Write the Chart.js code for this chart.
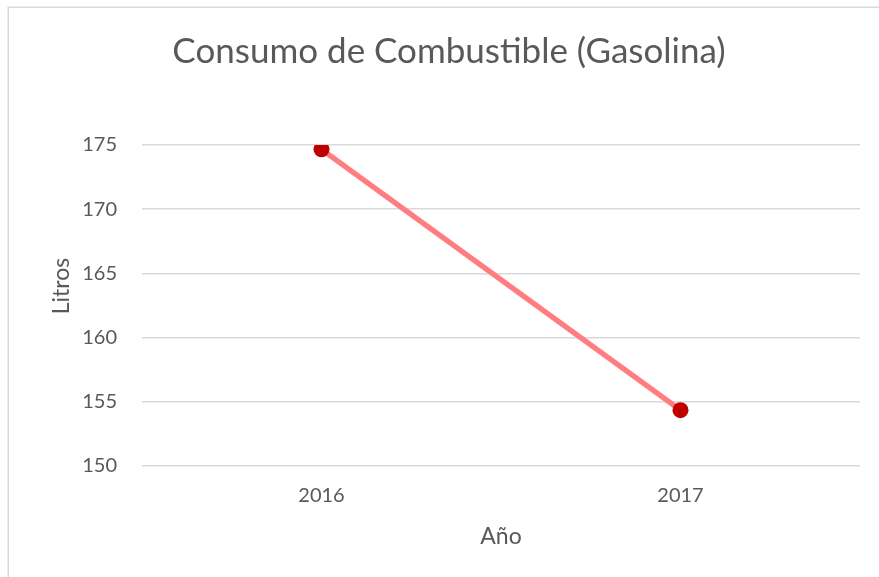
<!DOCTYPE html>
<html>
<head>
<meta charset="utf-8">
<script src="https://cdn.jsdelivr.net/npm/chart.js@4"></script>
<style>
  html, body { margin: 0; padding: 0; background: #ffffff; }
  #wrap { position: relative; width: 879px; height: 577px; }
</style>
</head>
<body>
<div id="wrap"><canvas id="c" width="879" height="577"></canvas></div>
<script>
const categories = ["2016", "2017"];
const litros = [174.66, 154.35];
const yTicks = [150, 155, 160, 165, 170, 175];

const chartTitle = "Consumo de Combustible (Gasolina)";
const xTitle = "Año";
const yTitle = "Litros";

const textColor = "#595959";
const gridColor = "#d9d9d9";

const framePlugin = {
  id: "frame",
  beforeDraw(chart) {
    const ctx = chart.ctx;
    ctx.save();
    ctx.fillStyle = "#ffffff";
    ctx.fillRect(0, 0, chart.width, chart.height);
    ctx.strokeStyle = "#d9d9d9";
    ctx.lineWidth = 1.5;
    ctx.strokeRect(8.25, 7.25, chart.width + 20, chart.height + 20);
    ctx.restore();
  }
};

const yTitlePlugin = {
  id: "yTitle",
  afterDraw(chart) {
    const ctx = chart.ctx;
    ctx.save();
    ctx.translate(69, 286);
    ctx.rotate(-Math.PI / 2);
    ctx.fillStyle = textColor;
    ctx.font = "23px Lato";
    ctx.textAlign = "center";
    ctx.textBaseline = "alphabetic";
    ctx.fillText(yTitle, 0, 0);
    ctx.restore();
  }
};

new Chart(document.getElementById("c"), {
  type: "line",
  data: {
    labels: categories,
    datasets: [{
      data: litros,
      borderColor: "#ff7c80",
      borderWidth: 5.5,
      pointBackgroundColor: "#c00000",
      pointBorderColor: "#c00000",
      pointBorderWidth: 0,
      pointRadius: 8,
      tension: 0,
      fill: false
    }]
  },
  options: {
    responsive: false,
    animation: false,
    events: [],
    layout: { padding: { left: 38, right: 19, top: 0, bottom: 0 } },
    plugins: {
      legend: { display: false },
      tooltip: { enabled: false },
      title: {
        display: true,
        text: chartTitle,
        color: textColor,
        font: { family: "Lato", size: 35, weight: "normal" },
        padding: { top: 31, bottom: 72 }
      }
    },
    scales: {
      x: {
        type: "category",
        offset: true,
        grid: { display: false, drawTicks: false },
        border: { display: false },
        ticks: {
          color: textColor,
          font: { family: "Lato", size: 20 },
          padding: 18,
          maxRotation: 0
        },
        title: {
          display: true,
          text: xTitle,
          color: textColor,
          font: { family: "Lato", size: 23 },
          padding: { top: 0, bottom: 27 }
        },
        afterFit(scale) { scale.height = 111; }
      },
      y: {
        min: yTicks[0],
        max: yTicks[yTicks.length - 1],
        afterBuildTicks(scale) { scale.ticks = yTicks.map(v => ({ value: v })); },
        grid: { color: gridColor, lineWidth: 1.5, drawTicks: false },
        border: { display: false },
        ticks: {
          color: textColor,
          font: { family: "Lato", size: 20 },
          padding: 25
        },
        title: { display: false },
        afterFit(scale) { scale.width = 104; }
      }
    }
  },
  plugins: [framePlugin, yTitlePlugin]
});
</script>
</body>
</html>
